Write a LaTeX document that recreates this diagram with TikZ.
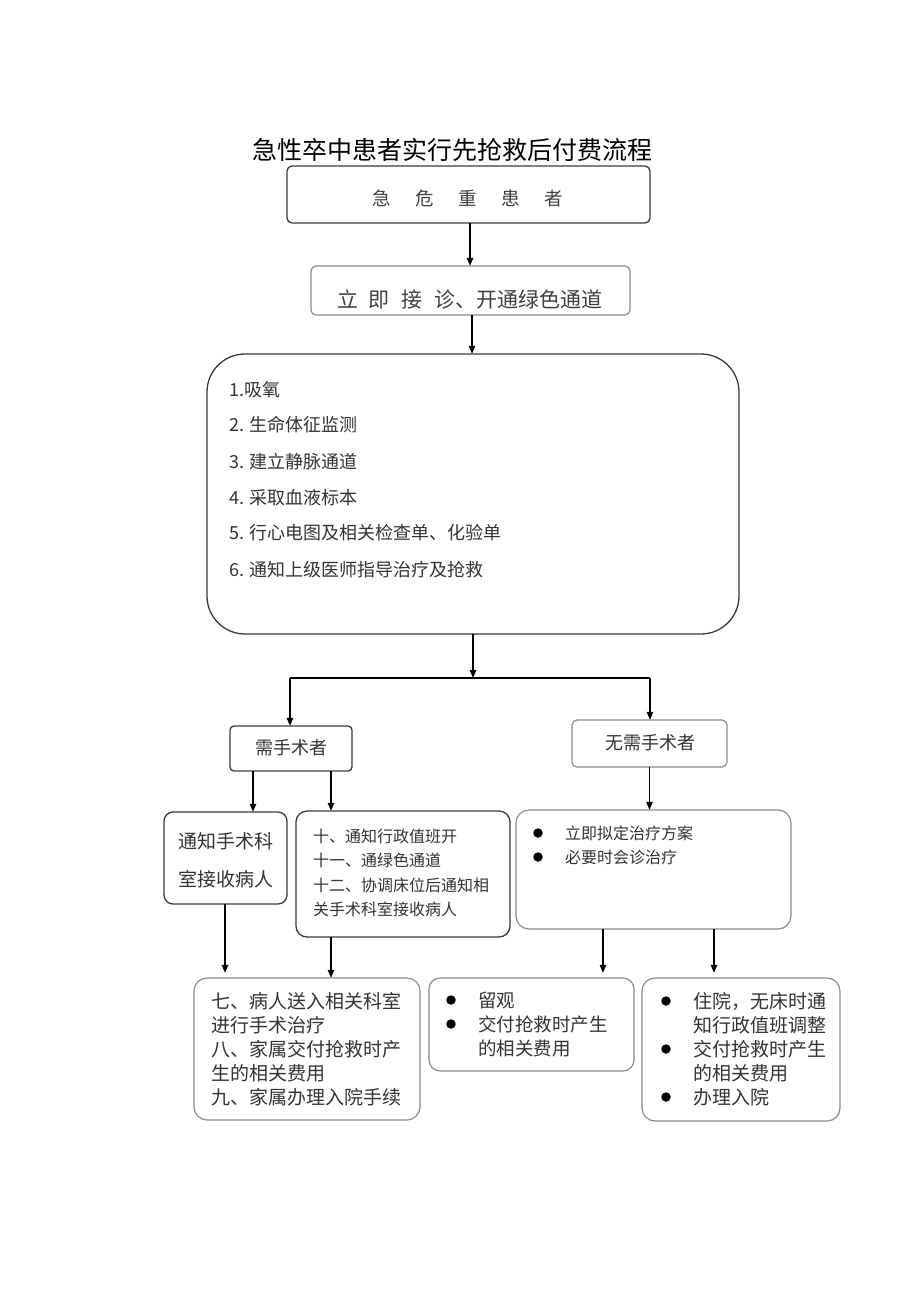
\documentclass[tikz,border=0pt]{standalone}
\usepackage{fontspec}
\setmainfont{Noto Sans CJK SC}
\usetikzlibrary{arrows.meta}
\definecolor{txt}{HTML}{333333}
\definecolor{dk}{HTML}{3A3A3A}
\definecolor{lg}{HTML}{8C8C8C}
\newcommand{\fs}[1]{\fontsize{#1pt}{#1pt}\selectfont}
\tikzset{
  dbox/.style={draw=dk, line width=1.3pt, rounded corners=#1},
  gbox/.style={draw=lg, line width=1.2pt, rounded corners=#1},
  arr/.style={-{Triangle[length=8pt,width=6.5pt]}, line width=1.2pt, draw=black},
  ln/.style={line width=1.2pt, draw=black},
  tl/.style={anchor=west, inner sep=0pt, text=txt},
  tc/.style={inner sep=0pt, text=txt},
  bul/.style={circle, fill=black, inner sep=0pt, minimum size=9.5pt}
}
\begin{document}
\begin{tikzpicture}[x=1pt,y=-1pt]
\useasboundingbox (0,0) rectangle (920,1301);
% title
\node[tc, text=black] (title) at (452,150) {\fs{25}急性卒中患者实行先抢救后付费流程};
% box 1
\draw[dbox=5pt] (287,166) rectangle (650,223);
\node[inner sep=0pt, minimum width=363pt, minimum height=57pt] (b1) at (468.5,194.5) {};
\node[tc, text=black!75] (b1t) at (468,198) {\fs{18.5}急\hspace{24.5pt}危\hspace{24.5pt}重\hspace{24.5pt}患\hspace{24.5pt}者};
% box 2
\draw[gbox=5pt] (311,266) rectangle (630,315);
\node[inner sep=0pt, minimum width=319pt, minimum height=49pt] (b2) at (470.5,290.5) {};
\node[tc, text=black!75] (b2t) at (470,299) {\fs{21}立\hspace{10pt}即\hspace{12pt}接\hspace{12pt}诊、开通绿色通道};
% big box
\draw[dbox=38pt] (207,354) rectangle (739,634);
\node[inner sep=0pt, minimum width=532pt, minimum height=280pt] (bb) at (473,494) {};
\node[tl] (l1) at (229,390) {\fs{18}1.吸氧};
\node[tl] (l2) at (229,425) {\fs{18}2. 生命体征监测};
\node[tl] (l3) at (229,462) {\fs{18}3. 建立静脉通道};
\node[tl] (l4) at (229,498) {\fs{18}4. 采取血液标本};
\node[tl] (l5) at (229,533) {\fs{18}5. 行心电图及相关检查单、化验单};
\node[tl] (l6) at (229,570) {\fs{18}6. 通知上级医师指导治疗及抢救};
% branch boxes
\draw[dbox=4pt] (230,726) rectangle (352,771);
\node[inner sep=0pt, minimum width=122pt, minimum height=45pt] (n1) at (291,748.5) {};
\node[tc] (n1t) at (291,748) {\fs{18}需手术者};
\draw[gbox=5pt] (572,720) rectangle (727,767);
\node[inner sep=0pt, minimum width=155pt, minimum height=47pt] (n2) at (649.5,743.5) {};
\node[tc] (n2t) at (650,743) {\fs{18}无需手术者};
% junction
\coordinate (j) at (473,678);
\coordinate (jl) at (290,678);
\coordinate (jr) at (650,678);
\draw[arr] (bb.south) -- (j);
\draw[ln] (jl) -- (jr);
\draw[arr] (jl) -- (jl |- n1.north);
\draw[arr] (jr) -- (jr |- n2.north);
% second level
\draw[dbox=9pt] (164,812) rectangle (287,904);
\node[inner sep=0pt, minimum width=123pt, minimum height=92pt] (c1) at (225.5,858) {};
\node[tl] (c1a) at (178,841) {\fs{19}通知手术科};
\node[tl] (c1b) at (178,879) {\fs{19}室接收病人};
\draw[dbox=11pt] (296,811) rectangle (510,937);
\node[inner sep=0pt, minimum width=214pt, minimum height=126pt] (c2) at (403,874) {};
\node[tl] (c2a) at (313,836) {\fs{16}十、通知行政值班开};
\node[tl] (c2b) at (313,860) {\fs{16}十一、通绿色通道};
\node[tl] (c2c) at (313,885) {\fs{16}十二、协调床位后通知相};
\node[tl] (c2d) at (313,909) {\fs{16}关手术科室接收病人};
\draw[gbox=13pt] (516,810) rectangle (791,929);
\node[inner sep=0pt, minimum width=275pt, minimum height=119pt] (c3) at (653.5,869.5) {};
\node[bul] (c3p) at (538,833) {};
\node[bul] (c3q) at (538,857) {};
\node[tl] (c3a) at (565,833) {\fs{16}立即拟定治疗方案};
\node[tl] (c3b) at (565,857) {\fs{16}必要时会诊治疗};
\coordinate (n1l) at (253,771);
\coordinate (n1r) at (331,771);
\draw[arr] (n1l) -- (n1l |- c1.north);
\draw[arr] (n1r) -- (n1r |- c2.north);
\draw[arr] (n2.south) -- (n2.south |- c3.north);
% bottom level
\draw[gbox=13pt] (194,978) rectangle (420,1120);
\node[inner sep=0pt, minimum width=226pt, minimum height=142pt] (d1) at (307,1049) {};
\node[tl] (d1a) at (211,1001) {\fs{19}七、病人送入相关科室};
\node[tl] (d1b) at (211,1025) {\fs{19}进行手术治疗};
\node[tl] (d1c) at (211,1049) {\fs{19}八、家属交付抢救时产};
\node[tl] (d1d) at (211,1073) {\fs{19}生的相关费用};
\node[tl] (d1e) at (211,1097) {\fs{19}九、家属办理入院手续};
\draw[gbox=11pt] (429,978) rectangle (634,1071);
\node[inner sep=0pt, minimum width=205pt, minimum height=93pt] (d2) at (531.5,1024.5) {};
\node[bul] (d2p) at (451,1000) {};
\node[bul] (d2q) at (451,1024) {};
\node[tl] (d2a) at (478,1000) {\fs{18.5}留观};
\node[tl] (d2b) at (478,1024) {\fs{18.5}交付抢救时产生};
\node[tl] (d2c) at (478,1048) {\fs{18.5}的相关费用};
\draw[gbox=13pt] (642,978) rectangle (840,1121);
\node[inner sep=0pt, minimum width=198pt, minimum height=143pt] (d3) at (741,1049.5) {};
\node[bul] (d3p) at (666,1001) {};
\node[bul] (d3q) at (666,1049) {};
\node[bul] (d3r) at (666,1097) {};
\node[tl] (d3a) at (693,1001) {\fs{19}住院，无床时通};
\node[tl] (d3b) at (693,1025) {\fs{19}知行政值班调整};
\node[tl] (d3c) at (693,1049) {\fs{19}交付抢救时产生};
\node[tl] (d3d) at (693,1073) {\fs{19}的相关费用};
\node[tl] (d3e) at (693,1097) {\fs{19}办理入院};
% bottom arrows
\coordinate (c1s) at (225,904);
\coordinate (c2s) at (331,937);
\coordinate (c3l) at (603,929);
\coordinate (c3r) at (714,929);
\draw[arr, shorten >=5pt] (c1s) -- (c1s |- d1.north);
\draw[arr] (c2s) -- (c2s |- d1.north);
\draw[arr, shorten >=5pt] (c3l) -- (c3l |- d2.north);
\draw[arr, shorten >=5pt] (c3r) -- (c3r |- d3.north);
% top arrows
\draw[arr] (b1.south -| 470,0) -- (b2.north -| 470,0);
\draw[arr] (b2.south -| 472,0) -- (bb.north -| 472,0);
\end{tikzpicture}
\end{document}
